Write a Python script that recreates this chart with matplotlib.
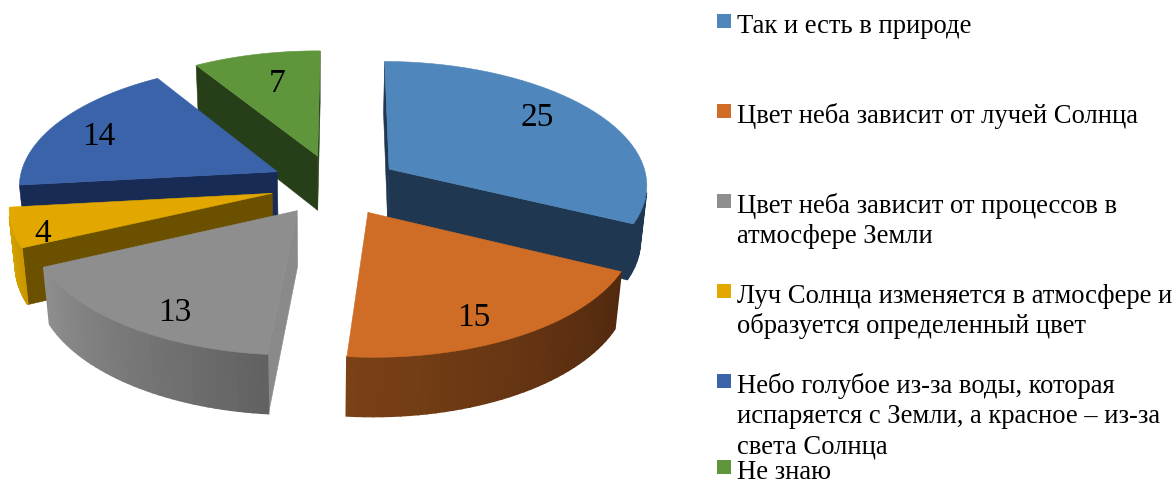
import numpy as np
import matplotlib
matplotlib.use("Agg")
import matplotlib.pyplot as plt
from matplotlib.colors import to_rgb
from matplotlib.patches import Polygon, Rectangle

values = [25, 15, 13, 4, 14, 7]
legend_labels = [
    ["Так и есть в природе"],
    ["Цвет неба зависит от лучей Солнца"],
    ["Цвет неба зависит от процессов в", "атмосфере Земли"],
    ["Луч Солнца изменяется в атмосфере и", "образуется определенный цвет"],
    ["Небо голубое из-за воды, которая", "испаряется с Земли, а красное – из-за", "света Солнца"],
    ["Не знаю"],
]

top_colors = ["#4f86bb", "#cf6d26", "#8e8e8e", "#e2a800", "#3a63aa", "#5f963b"]
wall_colors = ["#1f3750", "#55290f", "#8a8a8a", "#6b5000", "#172b55", "#273f18"]
rim_start = ["#1f3750", "#52290f", "#626262", "#c99600", "#172b55", "#273f18"]
rim_end = ["#1f3750", "#7a4116", "#8e8e8e", "#d9a400", "#172b55", "#273f18"]

# camera of the 3d pie, all in pixels of the picture
explode = 0.25
rotation = np.radians(0.6)
cx, cy, vx = 335, 186, 319
rx, ry, depth = 259, 122.7, 56
k_back, k_down = 0.109, 0.02


def project(X, Y, Z):
    w = 1 + k_back * Y + k_down * Z
    return vx + (cx - vx + rx * X) / w, cy + (-ry * Y + depth * Z) / w


def area(p):
    x, y = p[:, 0], p[:, 1]
    return 0.5 * np.sum(x * np.roll(y, -1) - np.roll(x, -1) * y)


def quad(p0, p1):
    # wall between two floor points, going from top face to bottom face
    return np.array([project(*p0, 0), project(*p1, 0), project(*p1, 1), project(*p0, 1)])


fig = plt.figure(figsize=(11.76, 4.85), dpi=100)
ax = fig.add_axes([0, 0, 1, 1])
ax.set_xlim(0, 1176)
ax.set_ylim(485, 0)
ax.axis("off")

edges = np.cumsum([0] + values) / sum(values) * 2 * np.pi + rotation

# back slices first, the front ones cover them
for n_draw, i in enumerate([5, 4, 3, 0, 2, 1]):
    a0, a1 = edges[i], edges[i + 1]
    mid = (a0 + a1) / 2
    ox, oy = explode * np.sin(mid), explode * np.cos(mid)
    apex = (ox, oy)
    t = np.linspace(a0, a1, 40)
    arc = np.column_stack([ox + np.sin(t), oy + np.cos(t)])
    z = n_draw * 3 + 1

    # only faces turned to the camera have negative area (y axis goes down)
    for p0, p1 in [(apex, tuple(arc[0])), (tuple(arc[-1]), apex)]:
        q = quad(p0, p1)
        if area(q) < 0:
            ax.add_patch(Polygon(q, fc=wall_colors[i], ec=wall_colors[i], lw=0.4, zorder=z))

    c0, c1 = np.array(to_rgb(rim_start[i])), np.array(to_rgb(rim_end[i]))
    for j in range(len(arc) - 1):
        q = quad(tuple(arc[j]), tuple(arc[j + 1]))
        if area(q) < 0:
            c = c0 + (c1 - c0) * j / (len(arc) - 2)
            ax.add_patch(Polygon(q, fc=c, ec=c, lw=1.2, zorder=z + 1))

    top = np.array([project(ox, oy, 0)] + [project(x, y, 0) for x, y in arc])
    ax.add_patch(Polygon(top, fc=top_colors[i], ec=top_colors[i], lw=0.4, zorder=z + 2))

# value labels
label_x = [537, 474, 175, 43, 99, 277]
label_y = [118, 318, 313, 234, 137, 84]
for v, x, y in zip(values, label_x, label_y):
    ax.text(x, y, str(v), fontsize=24, family="Liberation Serif", ha="center", va="center", color="black", zorder=40)

# legend
legend_y = [33, 123, 213, 303, 393, 479]
for lines, y, c in zip(legend_labels, legend_y, top_colors):
    ax.add_patch(Rectangle((717, y - 18), 14, 14, fc=c, ec="none", zorder=40))
    for n, line in enumerate(lines):
        ax.text(737, y + n * 30.5, line, fontsize=19.2, family="Liberation Serif", va="baseline", ha="left", color="black", zorder=40)

fig.savefig("out.png", dpi=100)
